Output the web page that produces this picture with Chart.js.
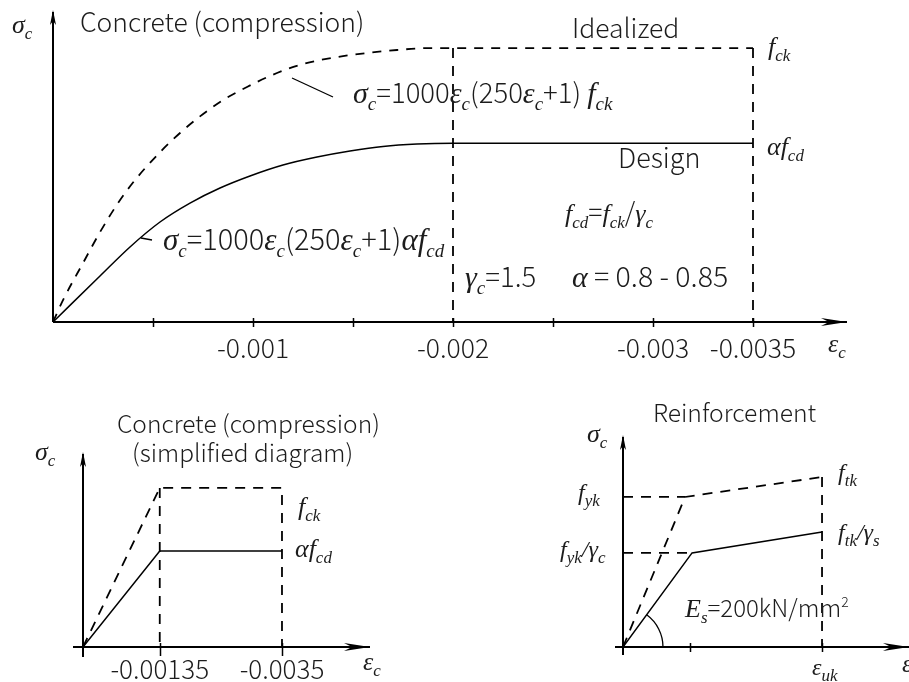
<!DOCTYPE html>
<html>
<head>
<meta charset="utf-8">
<script src="https://cdn.jsdelivr.net/npm/chart.js@4.4.1/dist/chart.umd.min.js"></script>
<style>
  body { margin: 0; background: #fff; }
  canvas { position: absolute; left: 0; top: 0; }
</style>
</head>
<body>
<canvas id="top" width="909" height="682"></canvas>
<canvas id="simple" width="909" height="682"></canvas>
<canvas id="steel" width="909" height="682"></canvas>
<script>
// top diagram: strain (compression, negative) and stress as a fraction of fck
var idealStrain = [0, -0.00005, -0.00015, -0.000235, -0.000325, -0.00041, -0.000535, -0.000635, -0.000725,
  -0.00085, -0.00097, -0.00112, -0.00125, -0.00142, -0.00157, -0.00172, -0.001885, -0.002, -0.0035];
var idealStress = [0, 0.080, 0.215, 0.328, 0.434, 0.518, 0.620, 0.690, 0.745,
  0.810, 0.858, 0.909, 0.942, 0.967, 0.982, 0.993, 1.0, 1.0, 1.0];
var designStrain = [0, -0.000235, -0.000385, -0.000535, -0.000685, -0.000835, -0.000985, -0.00115,
  -0.00132, -0.001485, -0.00165, -0.00182, -0.002, -0.0035];
var designStress = [0, 0.168, 0.274, 0.365, 0.434, 0.489, 0.533, 0.573, 0.602, 0.624, 0.641, 0.650, 0.653, 0.653];
var limitStrain = [-0.002, -0.0035];
var topTicks = [-0.0005, -0.001, -0.0015, -0.002, -0.0025, -0.003, -0.0035];
var topTickLabels = ['', '-0.001', '', '-0.002', '', '-0.003', '-0.0035'];

// simplified diagram
var simpleStrain = [0, -0.00135, -0.0035];
var simpleIdeal = [0, 1, 1];
var simpleDesign = [0, 0.604, 0.604];
var simpleTickLabels = ['-0.00135', '-0.0035'];

// reinforcement: strain as a fraction of eps_uk, stress as a fraction of fyk
var steelIdealStrain = [0, 0.312, 1];
var steelIdealStress = [0, 1, 1.133];
var steelDesignStrain = [0, 0.347, 1];
var steelDesignStress = [0, 0.627, 0.767];
var steelTicks = [0.337, 1];

var SANS = '"Noto Sans CJK JP", "Noto Sans", sans-serif';
var SERIF = '"Liberation Serif", "DejaVu Serif", serif';
var INK = '#1c1c1c';

function zip(xs, ys) {
  return xs.map(function (x, i) { return {x: x, y: ys[i]}; });
}

function drawMath(ctx, x, y, parts, sz) {
  sz = sz || {};
  var r = sz.r || 26.5, it = sz.i || 26, s = sz.s || 17;
  ctx.fillStyle = INK;
  ctx.textAlign = 'left';
  ctx.textBaseline = 'alphabetic';
  parts.forEach(function (p) {
    var t = p[0], k = p[1], dy = 0;
    if (k === 'r') ctx.font = '300 ' + r + 'px ' + SANS;
    else if (k === 'i') ctx.font = 'italic ' + it + 'px ' + SERIF;
    else if (k === 'sub') { ctx.font = 'italic ' + s + 'px ' + SERIF; dy = s * 0.35; }
    else if (k === 'sup') { ctx.font = '300 ' + Math.round(r * 0.6) + 'px ' + SANS; dy = -r * 0.42; }
    ctx.fillText(t, x, y + dy);
    x += ctx.measureText(t).width;
  });
}

function drawAxes(ctx, a, ext) {
  ctx.save();
  ctx.strokeStyle = '#000';
  ctx.fillStyle = '#000';
  ctx.lineWidth = 2;
  ctx.beginPath();
  ctx.moveTo(a.left - ext.left, a.bottom);
  ctx.lineTo(a.right, a.bottom);
  ctx.moveTo(a.left, a.bottom + ext.down);
  ctx.lineTo(a.left, a.top + 2);
  ctx.stroke();
  ctx.beginPath();
  ctx.moveTo(a.right, a.bottom);
  ctx.lineTo(a.right - 26, a.bottom - 4);
  ctx.lineTo(a.right - 18, a.bottom);
  ctx.lineTo(a.right - 26, a.bottom + 4);
  ctx.closePath();
  ctx.fill();
  ctx.beginPath();
  ctx.moveTo(a.left, a.top);
  ctx.lineTo(a.left - 3, a.top + 15);
  ctx.lineTo(a.left, a.top + 11);
  ctx.lineTo(a.left + 3, a.top + 15);
  ctx.closePath();
  ctx.fill();
  ctx.restore();
}

function drawTicks(chart, values, up, down) {
  var ctx = chart.ctx, sx = chart.scales.x, b = chart.chartArea.bottom;
  ctx.save();
  ctx.strokeStyle = '#000';
  ctx.lineWidth = 1.5;
  ctx.beginPath();
  values.forEach(function (v) {
    var px = Math.round(sx.getPixelForValue(v)) + 0.5;
    ctx.moveTo(px, b - up);
    ctx.lineTo(px, b + down);
  });
  ctx.stroke();
  ctx.restore();
}

function line(ctx, x1, y1, x2, y2) {
  ctx.save();
  ctx.strokeStyle = '#000';
  ctx.lineWidth = 1.3;
  ctx.beginPath();
  ctx.moveTo(x1, y1);
  ctx.lineTo(x2, y2);
  ctx.stroke();
  ctx.restore();
}

function baseOptions(pad, x, y) {
  return {
    responsive: false,
    animation: false,
    devicePixelRatio: 1,
    layout: {padding: pad},
    plugins: {legend: {display: false}, tooltip: {enabled: false}},
    elements: {point: {radius: 0}, line: {borderColor: '#000', borderWidth: 1.5, tension: 0}},
    scales: {x: x, y: y}
  };
}

function solid(points, extra) {
  var d = {data: points, showLine: true, borderColor: '#000', borderWidth: 1.5, fill: false};
  return Object.assign(d, extra || {});
}

function dashed(points, extra) {
  return solid(points, Object.assign({borderDash: [10, 8], borderWidth: 1.8}, extra || {}));
}

// ---------- top: parabola-rectangle ----------
new Chart(document.getElementById('top'), {
  type: 'scatter',
  data: {
    datasets: [
      solid(zip(designStrain, designStress), {cubicInterpolationMode: 'monotone'}),
      dashed(zip(idealStrain, idealStress), {cubicInterpolationMode: 'monotone', borderDash: [9, 8]})
    ].concat(limitStrain.map(function (v) {
      return dashed([{x: v, y: 1}, {x: v, y: 0}]);
    }))
  },
  options: baseOptions({left: 53, top: 10, right: 62, bottom: 0}, {
    type: 'linear', reverse: true, min: -0.00397, max: 0,
    afterBuildTicks: function (s) { s.ticks = topTicks.map(function (v) { return {value: v}; }); },
    afterFit: function (s) { s.height = 682 - 322; },
    grid: {display: false, drawTicks: false},
    border: {display: false},
    ticks: {
      autoSkip: false, maxRotation: 0, padding: 10, color: INK,
      font: {family: SANS, size: 26.5, weight: '300'},
      callback: function (v, i) { return topTickLabels[i]; }
    }
  }, {type: 'linear', display: false, min: 0, max: 1.139}),
  plugins: [{
    id: 'topNotes',
    afterDraw: function (chart) {
      var ctx = chart.ctx;
      var big = {i: 30, r: 27.5, s: 19};
      drawAxes(ctx, chart.chartArea, {left: 0, down: 0});
      drawTicks(chart, topTicks, 4, 5);
      line(ctx, 292, 78, 333, 97);
      line(ctx, 141, 238, 152, 240);
      drawMath(ctx, 12, 33, [['σ', 'i'], ['c', 'sub']]);
      drawMath(ctx, 80, 32, [['Concrete (compression)', 'r']]);
      drawMath(ctx, 572, 38, [['Idealized', 'r']]);
      drawMath(ctx, 768, 55, [['f', 'i'], ['ck', 'sub']]);
      drawMath(ctx, 353, 103, [['σ', 'i'], ['c', 'sub'], ['=1000', 'r'], ['ε', 'i'], ['c', 'sub'],
        ['(250', 'r'], ['ε', 'i'], ['c', 'sub'], ['+1) ', 'r'], ['f', 'i'], ['ck', 'sub']], big);
      drawMath(ctx, 618, 168, [['Design', 'r']], {r: 27});
      drawMath(ctx, 767, 155, [['α', 'i'], ['f', 'i'], ['cd', 'sub']]);
      drawMath(ctx, 565, 222, [['f', 'i'], ['cd', 'sub'], ['=', 'r'], ['f', 'i'], ['ck', 'sub'],
        ['/', 'r'], ['γ', 'i'], ['c', 'sub']]);
      drawMath(ctx, 163, 250, [['σ', 'i'], ['c', 'sub'], ['=1000', 'r'], ['ε', 'i'], ['c', 'sub'],
        ['(250', 'r'], ['ε', 'i'], ['c', 'sub'], ['+1)', 'r'], ['α', 'i'], ['f', 'i'], ['cd', 'sub']],
        {i: 31, r: 29, s: 19});
      drawMath(ctx, 465, 287, [['γ', 'i'], ['c', 'sub'], ['=1.5', 'r']], big);
      drawMath(ctx, 572, 287, [['α', 'i'], [' = 0.8 - 0.85', 'r']], {i: 30, r: 28.5});
      drawMath(ctx, 828, 352, [['ε', 'i'], ['c', 'sub']]);
    }
  }]
});

// ---------- bottom left: simplified diagram ----------
new Chart(document.getElementById('simple'), {
  type: 'scatter',
  data: {
    datasets: [
      solid(zip(simpleStrain, simpleDesign)),
      dashed(zip(simpleStrain, simpleIdeal).concat([{x: simpleStrain[2], y: 0}])),
      dashed([{x: simpleStrain[1], y: simpleIdeal[1]}, {x: simpleStrain[1], y: 0}])
    ]
  },
  options: baseOptions({left: 83, top: 452, right: 539, bottom: 0}, {
    type: 'linear', reverse: true, min: -0.005048, max: 0,
    afterBuildTicks: function (s) { s.ticks = simpleStrain.slice(1).map(function (v) { return {value: v}; }); },
    afterFit: function (s) { s.height = 682 - 647; },
    grid: {display: false, drawTicks: false},
    border: {display: false},
    ticks: {
      autoSkip: false, maxRotation: 0, padding: 7, color: INK,
      font: {family: SANS, size: 26, weight: '300'},
      callback: function (v, i) { return simpleTickLabels[i]; }
    }
  }, {type: 'linear', display: false, min: 0, max: 1.226}),
  plugins: [{
    id: 'simpleNotes',
    afterDraw: function (chart) {
      var ctx = chart.ctx;
      drawAxes(ctx, chart.chartArea, {left: 10, down: 10});
      drawTicks(chart, simpleStrain.slice(1), 4, 9);
      drawMath(ctx, 35, 460, [['σ', 'i'], ['c', 'sub']]);
      drawMath(ctx, 117, 433, [['Concrete (compression)', 'r']], {r: 24.5});
      drawMath(ctx, 132, 462, [['(simplified diagram)', 'r']], {r: 24.5});
      drawMath(ctx, 298, 515, [['f', 'i'], ['ck', 'sub']]);
      drawMath(ctx, 295, 557, [['α', 'i'], ['f', 'i'], ['cd', 'sub']]);
      drawMath(ctx, 363, 670, [['ε', 'i'], ['c', 'sub']]);
    }
  }]
});

// ---------- bottom right: reinforcement ----------
new Chart(document.getElementById('steel'), {
  type: 'scatter',
  data: {
    datasets: [
      solid(zip(steelDesignStrain, steelDesignStress)),
      dashed(zip(steelIdealStrain, steelIdealStress)),
      dashed([{x: 0, y: steelIdealStress[1]}, {x: steelIdealStrain[1], y: steelIdealStress[1]}]),
      dashed([{x: 0, y: steelDesignStress[1]}, {x: steelDesignStrain[1], y: steelDesignStress[1]}]),
      dashed([{x: steelIdealStrain[2], y: steelIdealStress[2]}, {x: steelIdealStrain[2], y: 0}])
    ]
  },
  options: baseOptions({left: 623, top: 435, right: 0, bottom: 35},
    {type: 'linear', display: false, min: 0, max: 1.437},
    {type: 'linear', display: false, min: 0, max: 1.413}),
  plugins: [{
    id: 'steelNotes',
    afterDraw: function (chart) {
      var ctx = chart.ctx, a = chart.chartArea;
      var sx = chart.scales.x, sy = chart.scales.y;
      drawAxes(ctx, a, {left: 8, down: 8});
      drawTicks(chart, steelTicks, 4, 5);
      // angle mark for the elastic modulus
      var ang = Math.atan2(sy.getPixelForValue(0) - sy.getPixelForValue(steelDesignStress[1]),
        sx.getPixelForValue(steelDesignStrain[1]) - sx.getPixelForValue(0));
      ctx.save();
      ctx.strokeStyle = '#000';
      ctx.lineWidth = 1.3;
      ctx.beginPath();
      ctx.arc(a.left, a.bottom, 40, -ang, 0);
      ctx.stroke();
      ctx.restore();
      drawMath(ctx, 653, 422, [['Reinforcement', 'r']], {r: 24.7});
      drawMath(ctx, 587, 442, [['σ', 'i'], ['c', 'sub']]);
      drawMath(ctx, 578, 500, [['f', 'i'], ['yk', 'sub']], {i: 24, s: 17});
      drawMath(ctx, 560, 557, [['f', 'i'], ['yk', 'sub'], ['/', 'i'], ['γ', 'i'], ['c', 'sub']], {i: 24, s: 17});
      drawMath(ctx, 838, 480, [['f', 'i'], ['tk', 'sub']], {i: 24, s: 17});
      drawMath(ctx, 838, 540, [['f', 'i'], ['tk', 'sub'], ['/', 'i'], ['γ', 'i'], ['s', 'sub']], {i: 24, s: 17});
      drawMath(ctx, 685, 617, [['E', 'i'], ['s', 'sub'], ['=200kN/mm', 'r'], ['2', 'sup']], {i: 26, r: 24});
      drawMath(ctx, 812, 675, [['ε', 'i'], ['uk', 'sub']], {i: 24, s: 17});
      drawMath(ctx, 902, 672, [['ε', 'i']]);
    }
  }]
});
</script>
</body>
</html>
